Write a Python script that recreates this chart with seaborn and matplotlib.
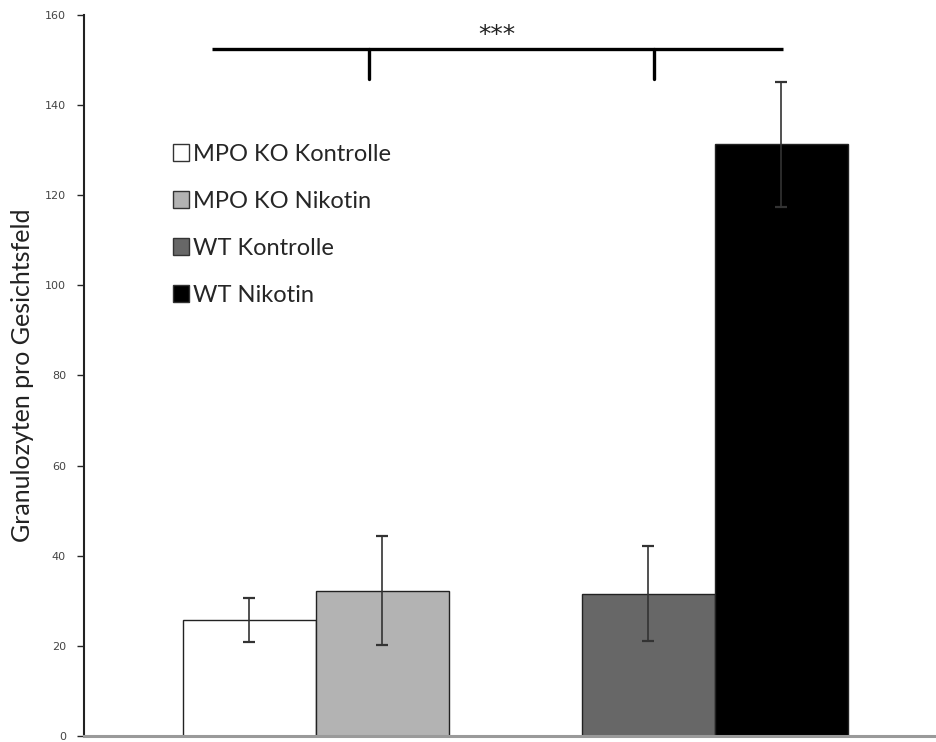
import matplotlib
matplotlib.use("Agg")
import matplotlib.pyplot as plt
import seaborn as sns
import pandas as pd
from matplotlib.patches import Patch

# ---- data ----
genotypes = ["MPO KO", "MPO KO", "WT", "WT"]
treatments = ["Kontrolle", "Nikotin", "Kontrolle", "Nikotin"]
labels = ["MPO KO Kontrolle", "MPO KO Nikotin", "WT Kontrolle", "WT Nikotin"]
means = [25.8, 32.2, 31.6, 131.3]
errors = [4.9, 12.1, 10.6, 13.9]
colors = ["#ffffff", "#b3b3b3", "#676767", "#000000"]
y_ticks = [0, 20, 40, 60, 80, 100, 120, 140, 160]
y_label = "Granulozyten pro Gesichtsfeld"
sig_text = "***"

df = pd.DataFrame({"Genotyp": genotypes, "Behandlung": treatments,
                   "Wert": means, "Label": labels})

sns.set_style("white")
plt.rcParams["font.family"] = ["DejaVu Sans"]

fig = plt.figure(figsize=(9.37, 7.42), dpi=100)
ax = fig.add_axes([84/937, 1-736/742, 1-84/937, (736-15)/742])

sns.barplot(data=df, x="Genotyp", y="Wert", hue="Behandlung",
            order=["MPO KO", "WT"], hue_order=["Kontrolle", "Nikotin"],
            width=0.667, errorbar=None, edgecolor="black", linewidth=1.0,
            legend=False, ax=ax)

# colour each bar and add error bars
bars = sorted(ax.patches, key=lambda p: p.get_x())
centers = []
for bar, c in zip(bars, colors):
    bar.set_facecolor(c)
    bar.set_edgecolor("#222222")
    centers.append(bar.get_x() + bar.get_width() / 2)
ax.errorbar(centers, means, yerr=errors, fmt="none", ecolor="#333333",
            elinewidth=1.2, capsize=4, capthick=1.6, zorder=5)

ax.set_xlim(-0.581, 1.557)
ax.set_ylim(0, 160)
ax.set_yticks(y_ticks)
ax.set_xticks([])
ax.set_xlabel("")
ax.set_ylabel(y_label, fontsize=18, family=["Lato", "DejaVu Sans"],
              color="#222222", labelpad=8)
ax.tick_params(axis="y", which="both", left=True, length=5, width=1,
               direction="out", labelsize=8, labelcolor="#444444", pad=8)

for s in ["top", "right"]:
    ax.spines[s].set_visible(False)
ax.spines["left"].set_color("#222222")
ax.spines["left"].set_linewidth(1.5)
ax.spines["bottom"].set_color("#9a9a9a")
ax.spines["bottom"].set_linewidth(2.2)

# significance bracket
bx0, bx1 = -0.261, 1.171
t1, t2 = 0.134, 0.848
by, bt = 152.5, 145.9
ax.plot([bx0, bx1], [by, by], color="black", lw=2.4, solid_capstyle="butt", clip_on=False)
ax.plot([t1, t1], [by, bt], color="black", lw=2.4, clip_on=False)
ax.plot([t2, t2], [by, bt], color="black", lw=2.4, clip_on=False)
ax.text(0.455, 155.6, sig_text, ha="center", va="center", fontsize=18, color="#222222")

# legend
handles = [Patch(facecolor=c, edgecolor="#333333", linewidth=1.0) for c in colors]
ax.legend(handles, labels, loc="upper left", bbox_to_anchor=(0.079, 0.851),
          frameon=False, handlelength=0.7, handleheight=0.7,
          handletextpad=0.15, labelspacing=1.1,
          prop={"family": ["Lato", "DejaVu Sans"], "size": 17})

fig.savefig("out.png", dpi=100)
